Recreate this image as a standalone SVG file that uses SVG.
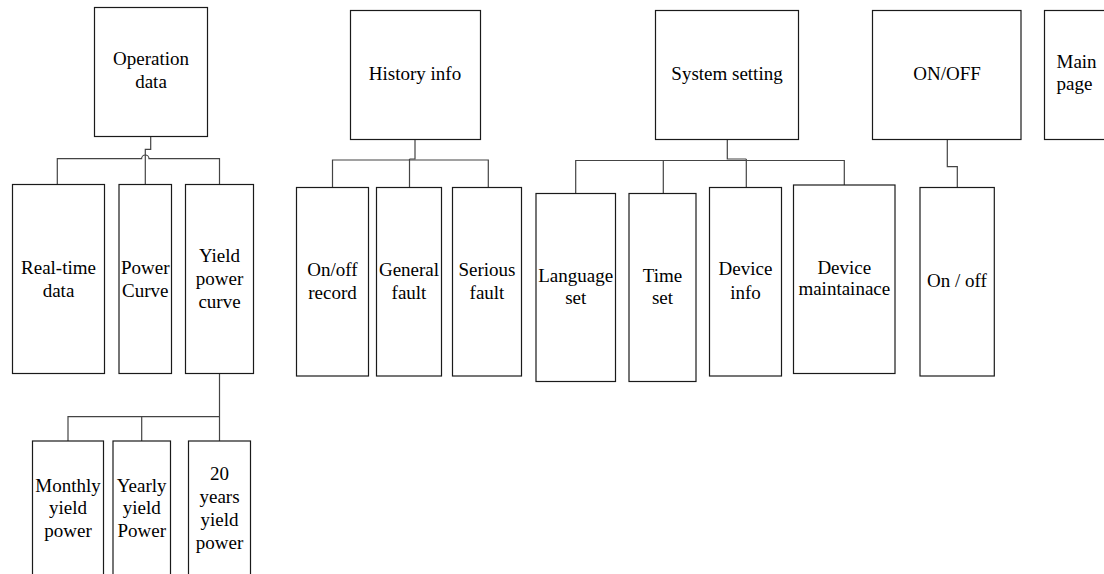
<svg xmlns="http://www.w3.org/2000/svg" width="1104" height="574" viewBox="0 0 1104 574">
<style>
.box{fill:#fff;stroke:#1a1a1a;stroke-width:1.2}
.t{font-family:'Liberation Serif',serif;font-size:19px;fill:#000;text-anchor:middle}
.c{fill:none;stroke:#444;stroke-width:1.2}
</style>
<rect width="1104" height="574" fill="#fff"/>
<g id="connectors">
<path class="c" d="M150.7,136.5 V149.3 H145.3 V184.5"/>
<path class="c" d="M57.3,184.5 V158.7 H141.6 A3.7,3.7 0 0 1 149,158.7 H219.5 V184.5"/>
<path class="c" d="M219.5,373.5 V416.7 H68 V441"/>
<path class="c" d="M141.7,416.7 V441"/>
<path class="c" d="M219.5,416.7 V441"/>
<path class="c" d="M415,139.5 V159 H409.5"/>
<path class="c" d="M332.5,187.5 V160 H488.3 V187.5"/>
<path class="c" d="M409.5,159 V187.5"/>
<path class="c" d="M727.3,139.5 V159 H746.3"/>
<path class="c" d="M575.7,193.5 V160.5 H844.3 V185"/>
<path class="c" d="M663.3,160.5 V193.5"/>
<path class="c" d="M746.3,159 V187.5"/>
<path class="c" d="M947.3,139.5 V166.7 H957.3 V187.5"/>
</g>
<g font-family="Liberation Serif, serif">
<g id="operation-data">
<rect class="box" x="94.5" y="7.5" width="113" height="129"/>
<text class="t" x="151" y="65">Operation</text>
<text class="t" x="151" y="88">data</text>
</g>
<g id="real-time-data">
<rect class="box" x="12.5" y="184.5" width="92" height="189"/>
<text class="t" x="58.5" y="274">Real-time</text>
<text class="t" x="58.5" y="297">data</text>
</g>
<g id="power-curve">
<rect class="box" x="119" y="184.5" width="52.5" height="189"/>
<text class="t" x="145.3" y="274">Power</text>
<text class="t" x="145.3" y="297">Curve</text>
</g>
<g id="yield-power-curve">
<rect class="box" x="185.5" y="184.5" width="68" height="189"/>
<text class="t" x="219.5" y="262">Yield</text>
<text class="t" x="219.5" y="285">power</text>
<text class="t" x="219.5" y="308">curve</text>
</g>
<g id="monthly">
<rect class="box" x="32.5" y="441" width="71" height="150"/>
<text class="t" x="68" y="491.5">Monthly</text>
<text class="t" x="68" y="514">yield</text>
<text class="t" x="68" y="536.5">power</text>
</g>
<g id="yearly">
<rect class="box" x="113" y="441" width="57.5" height="150"/>
<text class="t" x="141.7" y="491.5">Yearly</text>
<text class="t" x="141.7" y="514">yield</text>
<text class="t" x="141.7" y="536.5">Power</text>
</g>
<g id="twenty-years">
<rect class="box" x="188.5" y="441" width="62" height="150"/>
<text class="t" x="219.5" y="480">20</text>
<text class="t" x="219.5" y="502.5">years</text>
<text class="t" x="219.5" y="525.5">yield</text>
<text class="t" x="219.5" y="548.5">power</text>
</g>
<g id="history-info">
<rect class="box" x="350.5" y="10.5" width="130" height="129"/>
<text class="t" x="415" y="80">History info</text>
</g>
<g id="onoff-record">
<rect class="box" x="296.5" y="187.5" width="72" height="188.5"/>
<text class="t" x="332.5" y="276">On/off</text>
<text class="t" x="332.5" y="299">record</text>
</g>
<g id="general-fault">
<rect class="box" x="376.5" y="187.5" width="65" height="188.5"/>
<text class="t" x="409" y="276">General</text>
<text class="t" x="409" y="299">fault</text>
</g>
<g id="serious-fault">
<rect class="box" x="452.5" y="187.5" width="69" height="188.5"/>
<text class="t" x="487" y="276">Serious</text>
<text class="t" x="487" y="299">fault</text>
</g>
<g id="system-setting">
<rect class="box" x="655.5" y="10.5" width="143" height="129"/>
<text class="t" x="727" y="80">System setting</text>
</g>
<g id="language-set">
<rect class="box" x="536" y="193.5" width="79.5" height="188"/>
<text class="t" x="575.7" y="281.5">Language</text>
<text class="t" x="575.7" y="303.5">set</text>
</g>
<g id="time-set">
<rect class="box" x="629" y="193.5" width="67" height="188"/>
<text class="t" x="662.5" y="281.5">Time</text>
<text class="t" x="662.5" y="303.5">set</text>
</g>
<g id="device-info">
<rect class="box" x="709.5" y="187.5" width="72" height="188.5"/>
<text class="t" x="745.5" y="275">Device</text>
<text class="t" x="745.5" y="298.5">info</text>
</g>
<g id="device-maintainace">
<rect class="box" x="793.5" y="185" width="101.5" height="188.5"/>
<text class="t" x="844.3" y="273.5">Device</text>
<text class="t" x="844.3" y="295">maintainace</text>
</g>
<g id="onoff">
<rect class="box" x="872.5" y="10.5" width="148.5" height="129"/>
<text class="t" x="947" y="80">ON/OFF</text>
</g>
<g id="on-off">
<rect class="box" x="920" y="187.5" width="74.3" height="188.5"/>
<text class="t" x="957" y="287">On / off</text>
</g>
<g id="main-page">
<rect class="box" x="1044.5" y="10.5" width="80" height="129"/>
<text class="t" x="1056.5" y="68" style="text-anchor:start">Main</text>
<text class="t" x="1056.5" y="90" style="text-anchor:start">page</text>
</g>
</g>
</svg>
